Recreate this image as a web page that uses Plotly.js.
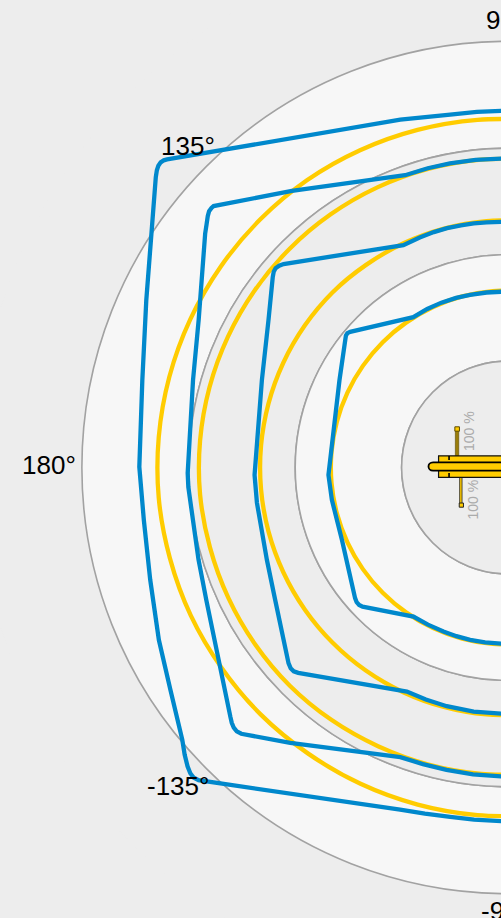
<!DOCTYPE html>
<html>
<head>
<meta charset="utf-8">
<script src="https://cdn.plot.ly/plotly-3.0.1.min.js"></script>
<style>
html,body{margin:0;padding:0;width:501px;height:918px;overflow:hidden;background:#ededed}
#wrap{position:absolute;left:0;top:0;width:501px;height:918px;overflow:hidden}
#chart{position:absolute;left:-100px;top:-100px}
</style>
</head>
<body>
<div id="wrap"><div id="chart"></div></div>
<script>
const tickLabels = ['90°', '135°', '180°', '-135°', '-90°'];
const percentLabels = ['100 %', '100 %'];

const bandBases = [3, 2, 1, 0];
const bandSpans = [1.005, 1, 1, 1];
const bandColors = ['#f7f7f7', '#ededed', '#f7f7f7', '#ededed'];

const yellowTheta = [85, 95, 105, 115, 125, 135, 145, 155, 165, 175, 185, 195, 205, 215, 225, 235, 245, 255, 265, 275];
const yellowR1 = [3.28, 3.28, 3.285, 3.29, 3.295, 3.295, 3.295, 3.295, 3.295, 3.295, 3.295, 3.29, 3.29, 3.285, 3.285, 3.28, 3.28, 3.28, 3.28, 3.28];
const yellowR2 = [2.905, 2.905, 2.905, 2.905, 2.905, 2.905, 2.905, 2.905, 2.905, 2.905, 2.905, 2.90, 2.90, 2.90, 2.90, 2.895, 2.89, 2.89, 2.89, 2.89];
const yellowR3 = [2.325, 2.325, 2.325, 2.325, 2.325, 2.33, 2.33, 2.33, 2.33, 2.33, 2.33, 2.33, 2.33, 2.33, 2.33, 2.33, 2.33, 2.33, 2.33, 2.33];
const yellowR4 = [1.665, 1.665, 1.665, 1.665, 1.665, 1.665, 1.665, 1.665, 1.665, 1.665, 1.665, 1.665, 1.665, 1.665, 1.665, 1.665, 1.665, 1.665, 1.665, 1.665];

const blueTheta1 = [85, 91.1, 95, 99.3, 107.2, 137.9, 138.25, 138.7, 139.2, 139.75, 140.5, 155.2, 166.6, 179.9, 188.2, 197.4, 206.3, 213.4, 219.9, 221.6, 223, 223.9, 224.6, 225.3, 252.5, 256.5, 260.6, 264.5, 268.9, 275];
const blueR1 = [3.35, 3.353, 3.356, 3.361, 3.423, 4.318, 4.336, 4.345, 4.341, 4.324, 4.29, 3.745, 3.533, 3.465, 3.458, 3.524, 3.66, 3.8, 3.99, 4.064, 4.118, 4.144, 4.15, 4.135, 3.372, 3.345, 3.329, 3.325, 3.324, 3.32];

const blueTheta2 = [85, 91.3, 96, 100.8, 105, 109.4, 128, 138.4, 138.8, 139.4, 140.07, 141.1, 142.3, 154.5, 164.5, 181, 183.5, 196.6, 203.7, 221.9, 222.74, 223.5, 224.2, 224.95, 231.65, 249.6, 254, 258.5, 263.5, 268.7, 275];
const blueR2 = [2.904, 2.904, 2.907, 2.91, 2.912, 2.912, 3.299, 3.7, 3.704, 3.7, 3.68, 3.64, 3.597, 3.221, 3.072, 3.011, 3.01, 3.035, 3.097, 3.506, 3.535, 3.553, 3.556, 3.542, 3.299, 2.904, 2.9, 2.9, 2.902, 2.904, 2.904];

const blueTheta3 = [85, 91.6, 95, 98, 101, 104.3, 107.5, 111, 115.2, 137.8, 138.6, 139.4, 140.1, 141.03, 148.4, 160.5, 181.7, 188, 201, 209.6, 221.7, 222.74, 223.56, 224.38, 245.7, 250.5, 255.6, 262, 268.4, 275];
const blueR3 = [2.309, 2.31, 2.313, 2.316, 2.319, 2.321, 2.32, 2.316, 2.31, 2.847, 2.867, 2.877, 2.87, 2.844, 2.643, 2.454, 2.383, 2.383, 2.427, 2.517, 2.763, 2.781, 2.779, 2.759, 2.31, 2.314, 2.316, 2.316, 2.315, 2.315];

const blueTheta4 = [85, 92.3, 97, 102.4, 107, 112, 117, 122.2, 139.3, 140.07, 140.86, 141.72, 152.6, 182.4, 190.4, 203.6, 220.5, 221.66, 222.7, 223.73, 237.6, 243, 248.5, 253, 257.6, 262.5, 267.7, 275];
const blueR4 = [1.652, 1.653, 1.657, 1.662, 1.667, 1.671, 1.672, 1.67, 1.956, 1.968, 1.964, 1.947, 1.784, 1.689, 1.683, 1.703, 1.89, 1.904, 1.904, 1.891, 1.659, 1.658, 1.657, 1.658, 1.659, 1.657, 1.656, 1.656];

const YELLOW = '#ffcc00', BLUE = '#0088cc', RING = '#a2a2a2';
const OFF = 100, W = 1216, H = 1135, ML = 75.5, MT = 35, PW = 1065, PH = 1065;
const px = x => (x + OFF - ML) / PW;
const py = y => 1 - (y + OFF - MT) / PH;
const P = (x, y) => px(x).toFixed(5) + ',' + py(y).toFixed(5);

function rect(x0, x1, y0, y1, fill, lineColor, lineWidth) {
  return {type: 'rect', xref: 'paper', yref: 'paper', x0: px(x0), x1: px(x1), y0: py(y0), y1: py(y1),
    fillcolor: fill, line: {color: lineColor, width: lineWidth}, layer: 'above'};
}
function seg(x0, y0, x1, y1, w) {
  return {type: 'line', xref: 'paper', yref: 'paper', x0: px(x0), x1: px(x1), y0: py(y0), y1: py(y1),
    line: {color: '#000', width: w}, layer: 'above'};
}

const shapes = [
  rect(455.3, 458.7, 430, 456, '#9a7d0a', '#5c4a00', 0.6),
  rect(454.8, 459.4, 426.8, 431.2, YELLOW, '#5c4a00', 1),
  rect(459.6, 462, 477, 503.5, YELLOW, '#222', 0.8),
  rect(459.2, 463.4, 503, 507.2, YELLOW, '#222', 1),
  rect(438.5, 525, 455.8, 477.3, YELLOW, '#111', 1.2),
  {type: 'path', xref: 'paper', yref: 'paper', layer: 'above', fillcolor: YELLOW, line: {color: '#000', width: 1.8},
   path: 'M ' + P(525, 462.4) + ' L ' + P(433, 462.4) + ' C ' + P(430, 462.4) + ' ' + P(428.4, 464.5) + ' ' + P(428.4, 466.5) +
         ' C ' + P(428.4, 468.5) + ' ' + P(430, 470.6) + ' ' + P(433, 470.6) + ' L ' + P(525, 470.6) + ' Z'},
  seg(449, 456, 449, 460, 1.6),
  seg(449, 473, 449, 477, 1.6)
];

function label(x, y, text) {
  return {xref: 'paper', yref: 'paper', x: px(x), y: py(y), text: text, showarrow: false, xanchor: 'center', yanchor: 'middle',
    font: {family: 'Liberation Sans, Arial, sans-serif', size: 26, color: '#000'}};
}
const annotations = [
  {xref: 'paper', yref: 'paper', x: px(468.5), y: py(431.5), text: percentLabels[0], textangle: -90, showarrow: false,
   font: {family: 'Liberation Sans, Arial, sans-serif', size: 14, color: '#ababab'}},
  {xref: 'paper', yref: 'paper', x: px(472), y: py(499.5), text: percentLabels[1], textangle: -90, showarrow: false,
   font: {family: 'Liberation Sans, Arial, sans-serif', size: 14, color: '#ababab'}},
  label(505.5, 20, tickLabels[0]),
  label(187.5, 146, tickLabels[1]),
  label(49, 465, tickLabels[2]),
  label(178, 786, tickLabels[3]),
  label(505, 911, tickLabels[4])
];

const bands = {
  type: 'barpolar', r: bandSpans, base: bandBases, theta: [0, 0, 0, 0], width: [360, 360, 360, 360],
  marker: {color: bandColors, line: {color: RING, width: 1.6}}, hoverinfo: 'skip', showlegend: false
};
function curve(theta, r, color, w, shape) {
  return {type: 'scatterpolar', mode: 'lines', theta: theta, r: r,
    line: {color: color, width: w, shape: shape, smoothing: 1}, hoverinfo: 'skip', showlegend: false};
}
const traces = [
  bands,
  curve(yellowTheta, yellowR1, YELLOW, 4.3, 'spline'),
  curve(yellowTheta, yellowR2, YELLOW, 4.3, 'spline'),
  curve(yellowTheta, yellowR3, YELLOW, 4.3, 'spline'),
  curve(yellowTheta, yellowR4, YELLOW, 4.3, 'spline'),
  curve(blueTheta1, blueR1, BLUE, 4.3, 'linear'),
  curve(blueTheta2, blueR2, BLUE, 4.3, 'linear'),
  curve(blueTheta3, blueR3, BLUE, 4.3, 'linear'),
  curve(blueTheta4, blueR4, BLUE, 4.3, 'linear')
];

const layout = {
  width: W, height: H, margin: {l: ML, r: W - ML - PW, t: MT, b: H - MT - PH}, paper_bgcolor: '#ededed', showlegend: false,
  polar: {
    bgcolor: '#ededed',
    domain: {x: [0, 1], y: [0, 1]},
    barmode: 'overlay',
    radialaxis: {range: [0, 5], visible: false, showgrid: false},
    angularaxis: {showticklabels: false, showgrid: false, showline: false, ticks: '', direction: 'counterclockwise', rotation: 0}
  },
  shapes: shapes, annotations: annotations
};
Plotly.newPlot('chart', traces, layout, {displayModeBar: false, staticPlot: true});
</script>
</body>
</html>
